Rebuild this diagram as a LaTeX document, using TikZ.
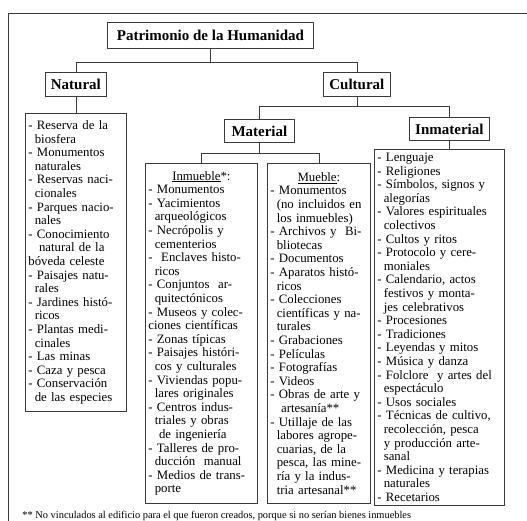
\documentclass[tikz,border=0pt]{standalone}
\usepackage{fontspec}
\setmainfont{Liberation Serif}
\definecolor{linegray}{HTML}{3A3A3A}
% indent of a continued line
\newcommand\ind{\hspace*{0.5em}}
\begin{document}
\begin{tikzpicture}[x=1pt,y=-1pt,line width=0.8pt,
  head/.style={draw=linegray, anchor=north west, inner sep=0pt, font=\fontsize{15}{16}\selectfont\bfseries},
  listbox/.style={draw=linegray, anchor=north west, inner xsep=3pt, inner ysep=0pt, align=left, font=\fontsize{12.8}{13.6}\selectfont},
  link/.style={draw=linegray}]
\useasboundingbox (0,0) rectangle (527,521);
\clip (0,0) rectangle (527,521);

% Outer frame
\draw[linegray] (8,521) -- (8,13) -- (527,13);

% Headings
\node[head, minimum width=206pt, minimum height=26pt] (title) at (107,22) {Patrimonio de la Humanidad};
\node[head, minimum width=61pt, minimum height=24pt] (natural) at (45,72) {Natural};
\node[head, minimum width=67pt, minimum height=24pt] (cultural) at (323,72) {Cultural};
\node[head, minimum width=70pt, minimum height=23pt] (material) at (224,119) {Material};
\node[head, minimum width=80pt, minimum height=23pt] (inmaterial) at (409,117) {Inmaterial};

% Lists
\node[listbox, text width=95pt, minimum height=298pt] (natlist) at (25,113) {%
- Reserva de la\\ \ind biosfera\\ - Monumentos\\ \ind naturales\\
- Reservas naci-\\ \ind cionales\\ - Parques nacio-\\ \ind nales\\
- Conocimiento\\ \ind\ natural de la\\ bóveda celeste\\
- Paisajes natu-\\ \ind rales\\ - Jardines histó-\\ \ind ricos\\
- Plantas medi-\\ \ind cinales\\ - Las minas\\ - Caza y pesca\\
- Conservación\\ \ind de las especies};

\node[listbox, text width=106pt, minimum height=340pt] (inmueble) at (145,163) {%
\makebox[\hsize]{\underline{Inmueble}*:}\\
- Monumentos\\ - Yacimientos\\ \ind arqueológicos\\
- Necrópolis y\\ \ind cementerios\\ -\ \ Enclaves histo-\\ \ind ricos\\
- Conjuntos\ \ ar-\\ \ind quitectónicos\\ - Museos y colec-\\ ciones científicas\\
- Zonas típicas\\ - Paisajes históri-\\ \ind cos y culturales\\
- Viviendas popu-\\ \ind lares originales\\ - Centros indus-\\
\ind triales y obras\\ \ind\ de ingeniería\\ - Talleres de pro-\\
\ind ducción\ \ manual\\ - Medios de trans-\\ \ind porte};

\node[listbox, text width=97pt, minimum height=340pt] (mueble) at (267,163) {%
\makebox[\hsize]{\underline{Mueble}:}\\
- Monumentos\\ \ind(no incluidos en\\ \ind los inmuebles)\\
- Archivos y\ \ Bi-\\ \ind bliotecas\\ - Documentos\\ - Aparatos histó-\\
\ind ricos\\ - Colecciones\\ \ind científicas y na-\\ \ind turales\\
- Grabaciones\\ - Películas\\ - Fotografías\\ - Videos\\
- Obras de arte y\\ \ind\ artesanía**\\ - Utillaje de las\\
\ind labores agrope-\\ \ind cuarias, de la\\ \ind pesca, las mine-\\
\ind ría y la indus-\\ \ind tria artesanal**};

\node[listbox, text width=124pt, minimum height=356pt] (inmatlist) at (374,149) {%
- Lenguaje\\ - Religiones\\ - Símbolos, signos y\\ \ind alegorías\\
- Valores espirituales\\ \ind colectivos\\ - Cultos y ritos\\
- Protocolo y cere-\\ \ind moniales\\ - Calendario, actos\\
\ind festivos y monta-\\ \ind jes celebrativos\\ - Procesiones\\
- Tradiciones\\ - Leyendas y mitos\\ - Música y danza\\
- Folclore\ \ y artes del\\ \ind espectáculo\\ - Usos sociales\\
- Técnicas de cultivo,\\ \ind recolección, pesca\\ \ind y producción arte-\\
\ind sanal\\ - Medicina y terapias\\ \ind naturales\\ - Recetarios};

% Tree links
\draw[link] (title.south) -- ++(0,14) coordinate (tsplit);
\draw[link] (natural.north) |- (tsplit) -| (cultural.north);
\draw[link] (natural.south) -- (natlist.north);
\draw[link] (cultural.south) -- ++(0,10) coordinate (csplit);
\draw[link] (material.north) |- (csplit) -| (inmaterial.north);
\draw[link] (material.south) -- ++(0,11) coordinate (msplit);
\draw[link] (inmueble.north) |- (msplit) -| (mueble.north);
\draw[link] (inmaterial.south) -- (inmaterial.south |- inmatlist.north);

% Footnote
\node[anchor=base west, inner sep=0pt, font=\fontsize{10.4}{12}\selectfont] (note) at (22,518)
  {** No vinculados al edificio para el que fueron creados, porque si no serían bienes inmuebles};
\end{tikzpicture}
\end{document}
